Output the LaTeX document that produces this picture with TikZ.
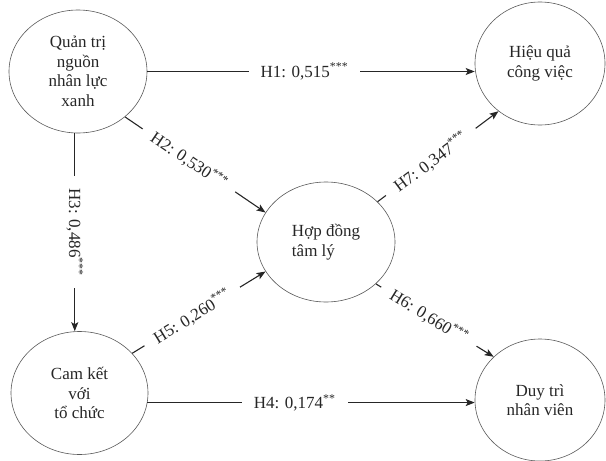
\documentclass[tikz,border=0pt]{standalone}
\usepackage{fontspec}
\setmainfont{Liberation Serif}
\usetikzlibrary{shapes.geometric,arrows.meta}
\begin{document}
\begin{tikzpicture}[x=1pt,y=-1pt,
  construct/.style={ellipse, draw=black!65, line width=0.6pt, inner sep=0pt,
    align=center, font=\fontsize{17}{19.5}\selectfont, text=black!85},
  link/.style={draw=black!85, line width=1.1pt},
  arr/.style={link, -{Stealth[length=9pt,width=7pt,inset=2pt]}},
  lbl/.style={fill=white, inner xsep=12pt, inner ysep=1pt,
    font=\fontsize{17}{19}\selectfont, text=black!85}]
\useasboundingbox (0,0) rectangle (606,461);

\node[construct, minimum width=138pt, minimum height=123pt] (A) at (78,71.5)
  {Quản trị\\nguồn\\nhân lực\\xanh};
\node[construct, minimum width=130pt, minimum height=123pt] (B) at (540,63.5)
  {Hiệu quả\\công việc};
\node[construct, minimum width=138pt, minimum height=120pt, align=left] (C) at (326,242)
  {Hợp đồng\\tâm lý};
\node[construct, minimum width=137pt, minimum height=123pt] (D) at (79.5,393)
  {Cam kết\\với\\tổ chức};
\node[construct, minimum width=130pt, minimum height=122pt] (E) at (540,400)
  {Duy trì\\nhân viên};

% H1
\draw[arr] (A.east) -- node[lbl, pos=0.48] {H1: 0,515\textsuperscript{***}} (A.east -| B.west);
% H3
\draw[arr] (A.-93.5) -- node[lbl, pos=0.5, rotate=-90] {H3: 0,486\textsuperscript{***}} (A.-93.5 |- D.north);
% H4
\draw[arr] (D.-8.5) -- node[lbl, pos=0.45] {H4: 0,174\textsuperscript{**}} (D.-8.5 -| E.west);
% H2
\draw[arr] (A.-44) -- node[lbl, pos=0.455, sloped] {H2: 0,530\textsuperscript{***}} (C.154);
% H5
\draw[arr] (D.37.6) -- node[lbl, pos=0.45, sloped] {H5: 0,260\textsuperscript{***}} (C.206);
% H7
\draw[arr] (C.38.2) -- node[lbl, pos=0.44, sloped] {H7: 0,347\textsuperscript{***}} (B.229);
% H6
\draw[arr] (C.-40) -- node[lbl, pos=0.45, sloped] {H6: 0,660\textsuperscript{***}} (E.137);
\end{tikzpicture}
\end{document}
